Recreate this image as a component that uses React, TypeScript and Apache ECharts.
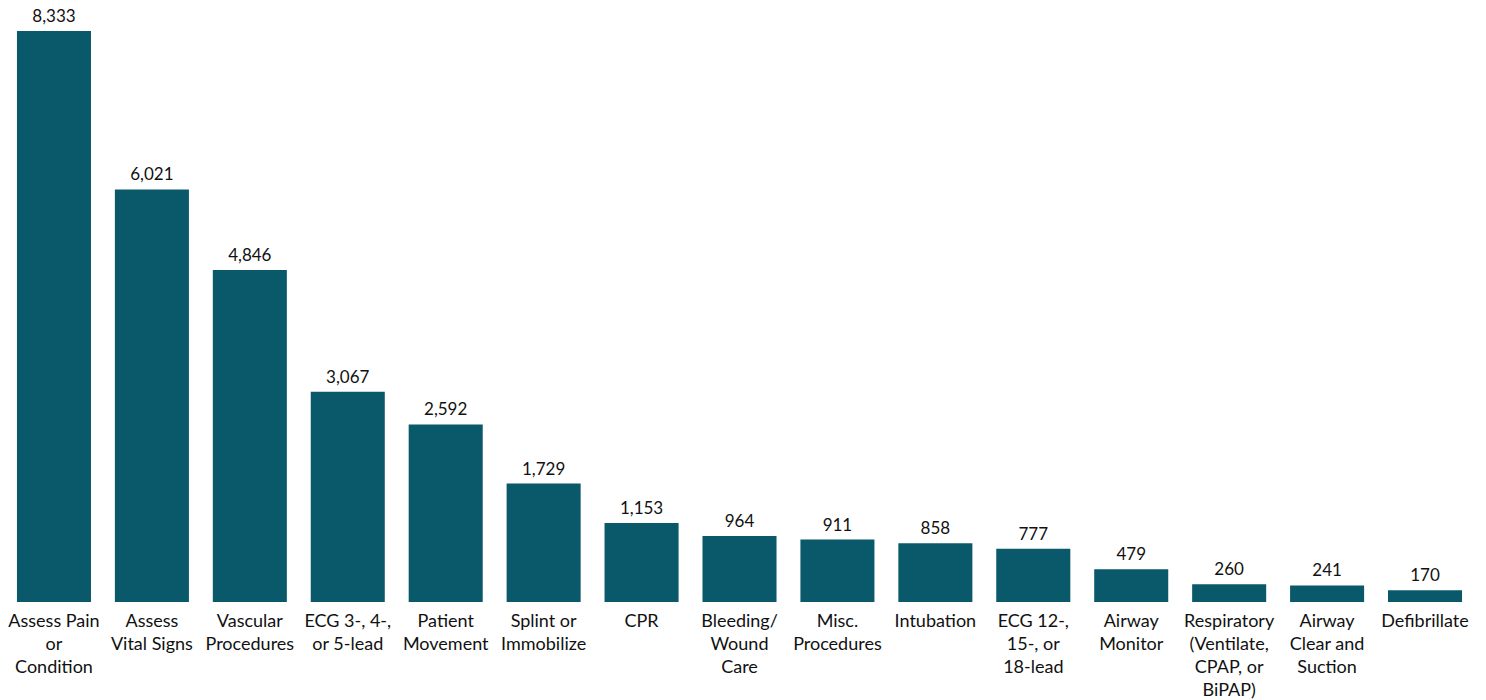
import React, { useEffect, useRef } from "react";
import * as echarts from "echarts";

const categories: string[] = [
  "Assess Pain\nor\nCondition",
  "Assess\nVital Signs",
  "Vascular\nProcedures",
  "ECG 3-, 4-,\nor 5-lead",
  "Patient\nMovement",
  "Splint or\nImmobilize",
  "CPR",
  "Bleeding/\nWound\nCare",
  "Misc.\nProcedures",
  "Intubation",
  "ECG 12-,\n15-, or\n18-lead",
  "Airway\nMonitor",
  "Respiratory\n(Ventilate,\nCPAP, or\nBiPAP)",
  "Airway\nClear and\nSuction",
  "Defibrillate",
];

const values: number[] = [8333, 6021, 4846, 3067, 2592, 1729, 1153, 964, 911, 858, 777, 479, 260, 241, 170];

const BAR_COLOR = "#0a596b";
const FONT = "Lato, 'Noto Sans', sans-serif";

export default function App() {
  const ref = useRef<HTMLDivElement>(null);
  useEffect(() => {
    if (!ref.current) return;
    const chart = echarts.init(ref.current, undefined, { renderer: "svg" });
    chart.setOption({
      animation: false,
      grid: { left: 5, right: 12, top: 31, bottom: 96, containLabel: false },
      xAxis: {
        type: "category",
        data: categories,
        axisLine: { show: false },
        axisTick: { show: false },
        axisLabel: {
          interval: 0,
          color: "#111",
          fontFamily: FONT,
          fontSize: 18,
          lineHeight: 23,
          margin: 6,
        },
      },
      yAxis: {
        type: "value",
        min: 0,
        max: 8333,
        show: false,
        splitLine: { show: false },
      },
      series: [
        {
          type: "bar",
          data: values,
          barCategoryGap: "24.4%",
          itemStyle: { color: BAR_COLOR },
          label: {
            show: true,
            position: "top",
            distance: 7,
            color: "#111",
            fontFamily: FONT,
            fontSize: 17,
            formatter: (p: any) => Number(p.value).toLocaleString("en-US"),
          },
        },
      ],
    });
    return () => chart.dispose();
  }, []);
  return (
    <div
      ref={ref}
      style={{ position: "fixed", left: 0, top: 0, width: 1486, height: 700, background: "#fff" }}
    />
  );
}
